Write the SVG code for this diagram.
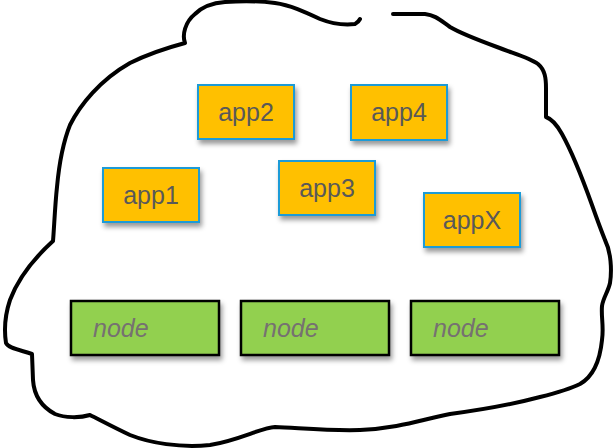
<svg xmlns="http://www.w3.org/2000/svg" width="613" height="448" viewBox="0 0 613 448">
  <defs>
    <filter id="shadow" x="-20%" y="-20%" width="150%" height="160%">
      <feDropShadow dx="2" dy="4" stdDeviation="2.5" flood-color="#000" flood-opacity="0.4"/>
    </filter>
  </defs>
  <style>
    .cloud { fill: none; stroke: #000; stroke-width: 4; stroke-linecap: round; stroke-linejoin: round; }
    .app rect { fill: #FFC000; stroke: #1A9BD7; stroke-width: 2; filter: url(#shadow); }
    .app text { font-family: "Liberation Sans", Arial, sans-serif; font-size: 25px; fill: #595959; text-anchor: middle; }
    .node rect { fill: #92D050; stroke: #000; stroke-width: 2.5; filter: url(#shadow); }
    .node text { font-family: "Liberation Sans", Arial, sans-serif; font-size: 25px; font-style: italic; fill: #767171; }
  </style>

  <!-- hand-drawn cluster outline, open at the top -->
  <g id="cluster">
    <path class="cloud" d="M393,14 L425,14 C435,15 440,20 450,27 C460,33 470,37 497,47 C515,54 530,58 538,64 C545,70 546,78 546,88 L546,117 C552,119 557,125 562,134 C572,152 583,180 592,205 C598,222 601,230 605,240 C611,252 612,270 610,283 C608,292 603,298 602,306 C601,318 604,326 602,340 C600,360 594,376 580,384 C570,389 560,392 540,397 C510,405 480,410 450,414 C420,420 400,428 360,430 C330,431 300,428 275,427 C260,428 240,440 210,445 C180,448 150,443 130,435 C115,428 100,420 90,415 C80,418 65,418 55,414 C40,406 34,395 33,380 L32,354 C20,350 8,348 6,343 C4,330 5,315 10,300 C16,284 30,262 53,241 C54,230 55,205 57,187 C59,165 62,145 70,125 C80,105 100,80 130,63 C150,53 170,47 185,43 C182,35 185,22 195,14 C203,6 212,3 225,2 C240,1 260,1 275,3 C290,5 305,12 320,19 C335,25 345,25 355,24 C357,23 359,21 360,19"/>
  </g>

  <!-- application boxes -->
  <g id="app2" class="app"><rect x="198" y="85" width="96" height="54"/><text x="246" y="121">app2</text></g>
  <g id="app4" class="app"><rect x="351" y="85" width="96" height="55"/><text x="399" y="121">app4</text></g>
  <g id="app1" class="app"><rect x="103" y="168" width="96" height="54"/><text x="151" y="204">app1</text></g>
  <g id="app3" class="app"><rect x="279" y="161" width="96" height="54"/><text x="327" y="197">app3</text></g>
  <g id="appX" class="app"><rect x="424" y="193" width="96" height="54"/><text x="472" y="229">appX</text></g>

  <!-- worker nodes -->
  <g id="node1" class="node"><rect x="71" y="301" width="148" height="54"/><text x="93" y="337">node</text></g>
  <g id="node2" class="node"><rect x="241" y="301" width="148" height="54"/><text x="263" y="337">node</text></g>
  <g id="node3" class="node"><rect x="411" y="301" width="148" height="54"/><text x="433" y="337">node</text></g>

  <g id="connectors"/>
</svg>
